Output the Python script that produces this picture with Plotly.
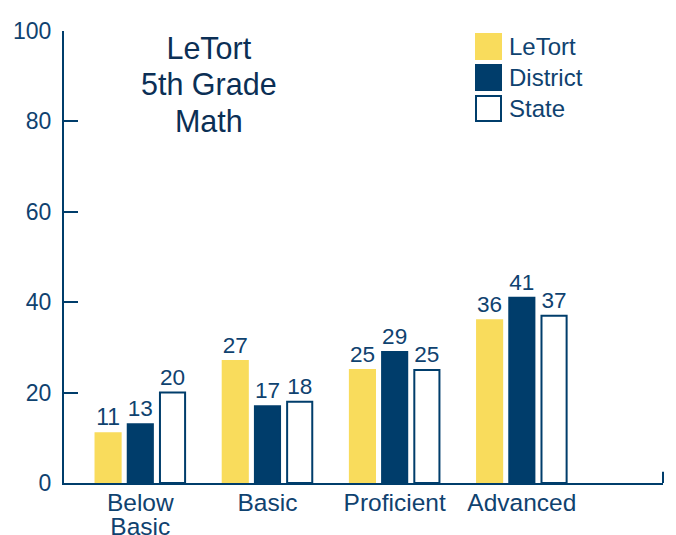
import plotly.graph_objects as go

categories = ["Below Basic", "Basic", "Proficient", "Advanced"]
tick_lines = [["Below", "Basic"], ["Basic"], ["Proficient"], ["Advanced"]]
series_names = ["LeTort", "District", "State"]
letort = [11, 27, 25, 36]
district = [13, 17, 29, 41]
state = [20, 18, 25, 37]
y_ticks = [0, 20, 40, 60, 80, 100]
title_lines = ["LeTort", "5th Grade", "Math"]

NAVY = "#003d6b"
TEXT = "#0f426f"
TITLE = "#0b2f55"
YELLOW = "#f9dc5c"
FONT = "Liberation Sans, Arial, sans-serif"

fills = [YELLOW, NAVY, "white"]
lines = [YELLOW, NAVY, NAVY]
values = [letort, district, state]

# page offset (browser body margin)
OX, OY = 8, 8
# desired plot area in page pixels
PL, PR, PT, PB = 64, 663, 31, 483
W, H = 676, 535

fig = go.Figure()
for name, vals, fc, lc in zip(series_names, values, fills, lines):
    fig.add_trace(go.Bar(
        name=name, x=categories, y=vals,
        marker=dict(color=fc, line=dict(color=lc, width=2)),
        text=[str(v) for v in vals], textposition="outside",
        textfont=dict(size=23, color=TEXT, family=FONT),
        cliponaxis=False,
    ))

# tighter line spacing for two-line labels: small base font, larger spans
tick_text = ["<br>".join("<span style='font-size:24.5px'>%s</span>" % w for w in ws)
             for ws in tick_lines]
title_text = "<br>".join("<span style='font-size:30.5px'>%s</span>" % t for t in title_lines)

fig.update_layout(
    width=W, height=H,
    margin=dict(l=PL - OX, r=W - (PR - OX), t=PT - OY, b=H - (PB - OY), pad=0),
    paper_bgcolor="white", plot_bgcolor="white",
    barmode="group", bargap=0.24, bargroupgap=0.22,
    showlegend=False,
    font=dict(family=FONT, color=TEXT, size=20),
    xaxis=dict(range=[-0.6, 4.11], showline=True, linecolor=NAVY, linewidth=2,
               ticks="", showgrid=False, automargin=False,
               tickvals=categories, ticktext=tick_text, ticklabelstandoff=4,
               tickfont=dict(size=18.5, color=TEXT)),
    yaxis=dict(range=[0, 100], tickvals=y_ticks, showline=True, linecolor=NAVY,
               linewidth=2, ticks="inside", ticklen=14, tickwidth=2, tickcolor=NAVY,
               showgrid=False, zeroline=False, automargin=False, ticklabelstandoff=6,
               tickfont=dict(size=23, color=TEXT)),
)

# right end tick of x axis
fig.add_shape(type="line", xref="x domain", yref="y", x0=1, x1=1, y0=0, y1=2.5,
              line=dict(color=NAVY, width=2))

pw, ph = PR - PL, PB - PT
def px(x):
    return (x - PL) / pw
def py(y):
    return (PB - y) / ph

# title
fig.add_annotation(xref="paper", yref="paper", x=px(209), y=py(29.5),
                   xanchor="center", yanchor="top", showarrow=False,
                   text=title_text,
                   font=dict(size=28, color=TITLE, family=FONT))

# custom legend
leg_top = [34, 65, 96]
for name, fc, lc, top in zip(series_names, fills, lines, leg_top):
    fig.add_shape(type="rect", xref="paper", yref="paper",
                  x0=px(476), x1=px(501), y0=py(top), y1=py(top + 25),
                  fillcolor=fc, line=dict(color=lc, width=2))
    fig.add_annotation(xref="paper", yref="paper", x=px(507),
                       y=py(top + 12.5), xanchor="left", yanchor="middle",
                       showarrow=False, text=name,
                       font=dict(size=24, color=TEXT, family=FONT))

fig.write_html("out.html")
